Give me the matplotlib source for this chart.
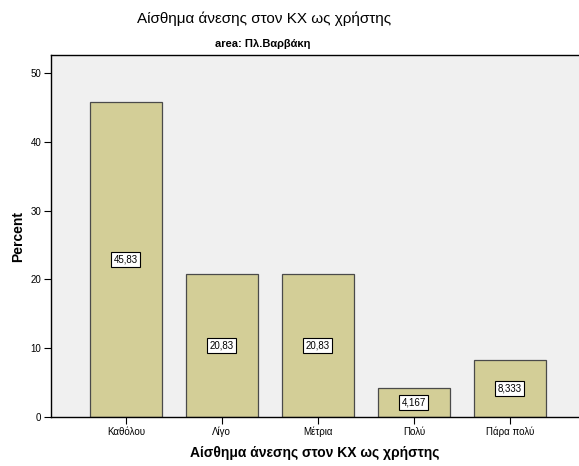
import matplotlib
matplotlib.use("Agg")
import matplotlib.pyplot as plt

categories = ["Καθόλου", "Λίγο", "Μέτρια", "Πολύ", "Πάρα πολύ"]
values = [45.83, 20.83, 20.83, 4.167, 8.333]
value_labels = ["45,83", "20,83", "20,83", "4,167", "8,333"]
yticks = [0, 10, 20, 30, 40, 50]

plt.rcParams['font.family'] = ['Liberation Sans', 'DejaVu Sans']

W, H = 579, 466
fig = plt.figure(figsize=(W / 100, H / 100), dpi=100)
ax = fig.add_axes([51 / W, (H - 417) / H, (W - 51) / W, (417 - 55) / H])
ax.set_facecolor('#F0F0F0')

x = list(range(len(categories)))
ax.bar(x, values, width=0.75, color='#D3CE97', edgecolor='#4A4A4A', linewidth=0.9, zorder=2)
for xi, v, lab in zip(x, values, value_labels):
    ax.text(xi, v / 2, lab, ha='center', va='center', fontsize=7, zorder=3,
            bbox=dict(boxstyle='square,pad=0.25', facecolor='white', edgecolor='black', linewidth=0.8))

ax.set_xlim(-0.78, 4.72)
ax.set_ylim(0, 52.6)
ax.set_xticks(x)
ax.set_xticklabels(categories, fontsize=7)
ax.set_yticks(yticks)
ax.set_yticklabels([str(t) for t in yticks], fontsize=7)
ax.tick_params(axis='both', direction='out', length=5, width=0.8, color='black', pad=2)
ax.spines['right'].set_visible(False)
for s in ['left', 'bottom', 'top']:
    ax.spines[s].set_linewidth(1.0)
    ax.spines[s].set_color('black')

ax.set_ylabel('Percent', fontsize=10, fontweight='bold', labelpad=4)
ax.set_xlabel('Αίσθημα άνεσης στον ΚΧ ως χρήστης', fontsize=10, fontweight='bold', labelpad=6)

fig.text(264 / W, 1 - 19 / H, 'Αίσθημα άνεσης στον ΚΧ ως χρήστης', ha='center', va='center', fontsize=11)
fig.text(263 / W, 1 - 44 / H, 'area: Πλ.Βαρβάκη', ha='center', va='center', fontsize=8, fontweight='bold')

fig.savefig('out.png', dpi=100)
